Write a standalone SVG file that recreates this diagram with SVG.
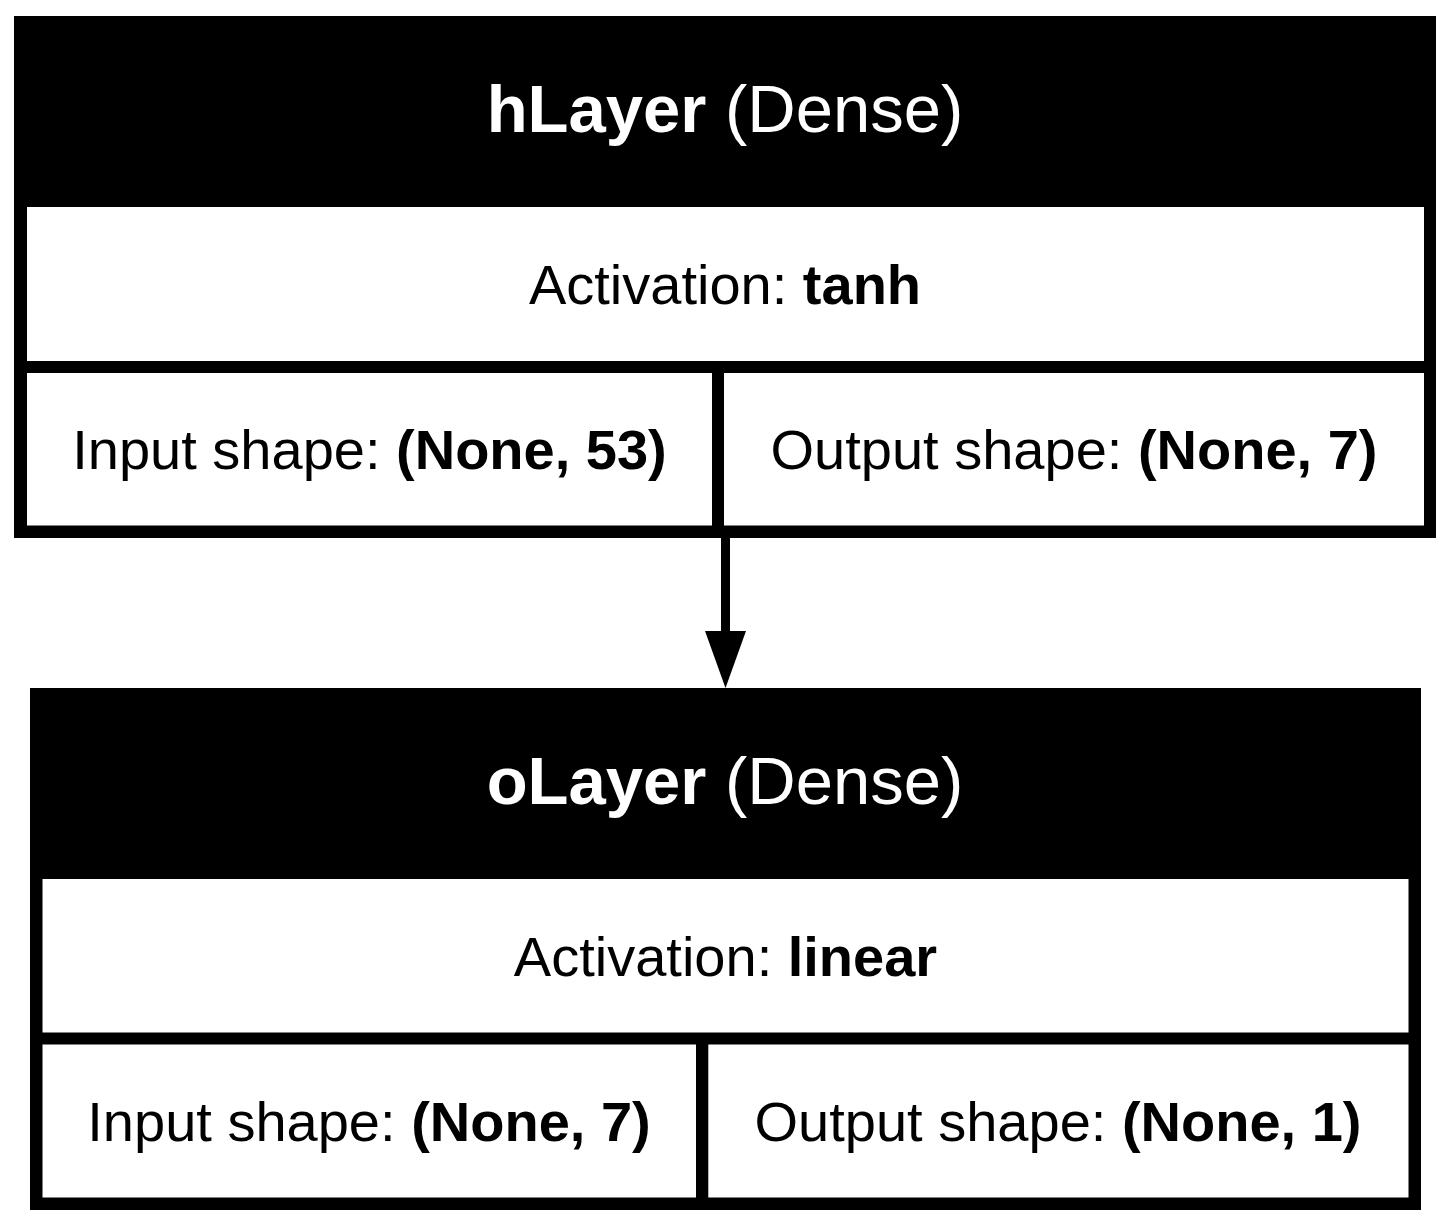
<svg xmlns="http://www.w3.org/2000/svg" width="1451" height="1227" viewBox="0 0 1451 1227">
<style>
text{font-family:"Liberation Sans",Arial,sans-serif;text-anchor:middle}
.t{font-size:67px;fill:#fff}
.b{font-size:56px;fill:#000}
.bold{font-weight:bold}
.frame{fill:#000}
.cell{fill:#fff}
</style>
<rect width="1451" height="1227" fill="#fff"/>
<g id="hLayer">
<rect class="frame" x="14" y="16" width="1422" height="522"/>
<rect class="cell" x="27" y="207" width="1397" height="154"/>
<rect class="cell" x="27" y="373" width="685" height="152.5"/>
<rect class="cell" x="724" y="373" width="700" height="152.5"/>
<text class="t" x="725" y="132"><tspan class="bold">hLayer</tspan> (Dense)</text>
<text class="b" x="725" y="304">Activation: <tspan class="bold">tanh</tspan></text>
<text class="b" x="369.5" y="469">Input shape: <tspan class="bold">(None, 53)</tspan></text>
<text class="b" x="1074" y="469">Output shape: <tspan class="bold">(None, 7)</tspan></text>
</g>
<g id="oLayer">
<rect class="frame" x="30" y="688" width="1391" height="522"/>
<rect class="cell" x="42.5" y="879" width="1366" height="153.5"/>
<rect class="cell" x="42.5" y="1044.5" width="653.5" height="153"/>
<rect class="cell" x="708.3" y="1044.5" width="700.2" height="153"/>
<text class="t" x="725" y="804"><tspan class="bold">oLayer</tspan> (Dense)</text>
<text class="b" x="725.5" y="976">Activation: <tspan class="bold">linear</tspan></text>
<text class="b" x="369" y="1141">Input shape: <tspan class="bold">(None, 7)</tspan></text>
<text class="b" x="1058" y="1141">Output shape: <tspan class="bold">(None, 1)</tspan></text>
</g>
<g id="connectors">
<rect x="721" y="538" width="9" height="94" fill="#000"/>
<polygon points="705,631 746,631 725.5,688" fill="#000"/>
</g>
</svg>
